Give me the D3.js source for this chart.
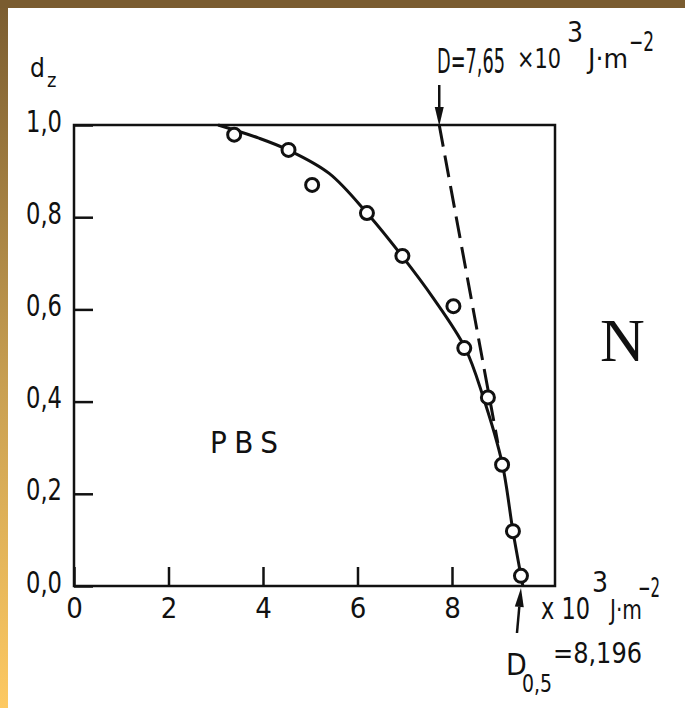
<!DOCTYPE html>
<meta charset="utf-8">
<style>
    body { margin: 0; background: #fff; }
    svg { display: block; }
    .tick text, .lbl {
        font-family: "DejaVu Sans", sans-serif;
        font-stretch: condensed;
        fill: #111;
    }
    .tick line, .frame { stroke: #111; }
</style>
<body>
<script src="https://d3js.org/d3.v7.min.js"></script>
<script>
// ticks
var xTicks = [0, 2, 4, 6, 8];
var yTicks = [0, 0.2, 0.4, 0.6, 0.8, 1.0];

// measured points (dose x10^3 J/m2, d_z)
var doseX = [3.39, 4.54, 5.04, 6.20, 6.95, 8.03, 8.26, 8.76, 9.06, 9.29, 9.46];
var survD = [0.979, 0.946, 0.870, 0.809, 0.716, 0.607, 0.516, 0.409, 0.263, 0.119, 0.022];

// fitted curve
var fitX = [3.05, 3.90, 4.53, 5.40, 6.20, 6.94, 7.60, 8.28, 8.66, 9.06, 9.29, 9.46, 9.50];
var fitD = [1.0, 0.972, 0.946, 0.895, 0.809, 0.716, 0.625, 0.516, 0.410, 0.267, 0.119, 0.022, 0.0];

// dashed extrapolation
var tangentX = [7.73, 8.97];
var tangentD = [1.0, 0.31];

var width = 685, height = 708;
var svg = d3.select("body").append("svg")
    .attr("width", width)
    .attr("height", height);

// golden frame
var grad = svg.append("defs").append("linearGradient")
    .attr("id", "edge").attr("x1", 0).attr("y1", 0).attr("x2", 0).attr("y2", 1);
grad.append("stop").attr("offset", "0%").attr("stop-color", "#7a5c30");
grad.append("stop").attr("offset", "55%").attr("stop-color", "#c9a052");
grad.append("stop").attr("offset", "100%").attr("stop-color", "#fdc962");
svg.append("rect").attr("x", 0).attr("y", 0).attr("width", 8).attr("height", height).attr("fill", "url(#edge)");
svg.append("rect").attr("x", 0).attr("y", 0).attr("width", width).attr("height", 8).attr("fill", "#7a5c30");

var x = d3.scaleLinear().domain([0, 10.18]).range([74, 555]);
var y = d3.scaleLinear().domain([0, 1]).range([586, 125]);

var fmt = d3.formatLocale({decimal: ",", thousands: ".", grouping: [3], currency: ["", ""]}).format(".1f");

var gy = svg.append("g")
    .attr("transform", "translate(74,0)")
    .call(d3.axisLeft(y).tickValues(yTicks).tickSize(-19).tickPadding(12).tickFormat(fmt));
gy.select(".domain").remove();
gy.selectAll("text").attr("dy", "0.2em").style("font-size", "30px")
    .attr("textLength", 36).attr("lengthAdjust", "spacingAndGlyphs");
gy.selectAll("line").attr("stroke-width", 2.5);

var gx = svg.append("g")
    .attr("transform", "translate(0,586)")
    .call(d3.axisBottom(x).tickValues(xTicks).tickSize(-19).tickPadding(11).tickFormat(d3.format("d")));
gx.select(".domain").remove();
gx.selectAll("text").style("font-size", "29px");
gx.selectAll("line").attr("stroke-width", 2.5);

svg.append("rect").attr("class", "frame")
    .attr("x", x(0)).attr("y", y(1))
    .attr("width", x.range()[1] - x(0)).attr("height", y(0) - y(1))
    .attr("fill", "none").attr("stroke-width", 2.5);

// dashed tangent
svg.append("line")
    .attr("x1", x(tangentX[0])).attr("y1", y(tangentD[0]))
    .attr("x2", x(tangentX[1])).attr("y2", y(tangentD[1]))
    .attr("stroke", "#111").attr("stroke-width", 3)
    .attr("stroke-dasharray", "22,9");

// fitted curve
var line = d3.line()
    .x(function(d, i) { return x(fitX[i]); })
    .y(function(d, i) { return y(fitD[i]); })
    .curve(d3.curveCatmullRom.alpha(0.5));
svg.append("path")
    .datum(fitX)
    .attr("d", line)
    .attr("fill", "none").attr("stroke", "#111").attr("stroke-width", 3);

// points
svg.selectAll(".pt")
    .data(doseX)
    .enter().append("circle")
    .attr("class", "pt")
    .attr("cx", function(d) { return x(d); })
    .attr("cy", function(d, i) { return y(survD[i]); })
    .attr("r", 6.5)
    .attr("fill", "#fff").attr("stroke", "#111").attr("stroke-width", 3);

function arrow(x1, y1, x2, y2) {
    var a = Math.atan2(y2 - y1, x2 - x1), L = 19, w = 4.5;
    var bx = x2 - L * Math.cos(a), by = y2 - L * Math.sin(a);
    svg.append("line").attr("x1", x1).attr("y1", y1).attr("x2", bx).attr("y2", by)
        .attr("stroke", "#111").attr("stroke-width", 2.5);
    svg.append("path")
        .attr("d", "M" + x2 + "," + y2 +
            "L" + (bx + w * Math.sin(a)) + "," + (by - w * Math.cos(a)) +
            "L" + (bx - w * Math.sin(a)) + "," + (by + w * Math.cos(a)) + "Z")
        .attr("fill", "#111");
}
arrow(x(tangentX[0]), 85, x(tangentX[0]), y(1) + 1);
arrow(x(doseX[10]) - 4, 633, x(doseX[10]), y(0) + 2);

// text squeezed to the width it has in the scan
function label(t, px, py, size, w) {
    var el = svg.append("text").attr("class", "lbl")
        .attr("x", px).attr("y", py).style("font-size", size + "px").text(t);
    if (w) el.attr("textLength", w).attr("lengthAdjust", "spacingAndGlyphs");
    return el;
}

// y axis title
label("d", 30, 77, 26);
label("z", 47, 87, 20);

// top annotation
label("D=7,65", 437, 73, 33, 68);
label("×10", 517, 68, 27, 44);
label("3", 567, 42, 28);
label("J·m", 588, 68, 27, 40);
label("−2", 629, 51, 27, 25);

// bottom annotation
label("x 10", 541, 619, 30, 49);
label("3", 592, 592, 28);
label("J·m", 610, 619, 27, 32);
label("−2", 638, 597, 27, 22);
label("D", 506, 675, 30);
label("0,5", 522, 692, 25, 30);
label("=8,196", 553, 663, 29, 89);

label("PBS", 210, 453, 31, 68).attr("lengthAdjust", "spacing");

svg.append("text")
    .attr("x", 600).attr("y", 361)
    .style("font-family", "'Liberation Serif', 'Times New Roman', serif")
    .style("font-size", "62px")
    .attr("fill", "#111")
    .text("N");
</script>
</body>
